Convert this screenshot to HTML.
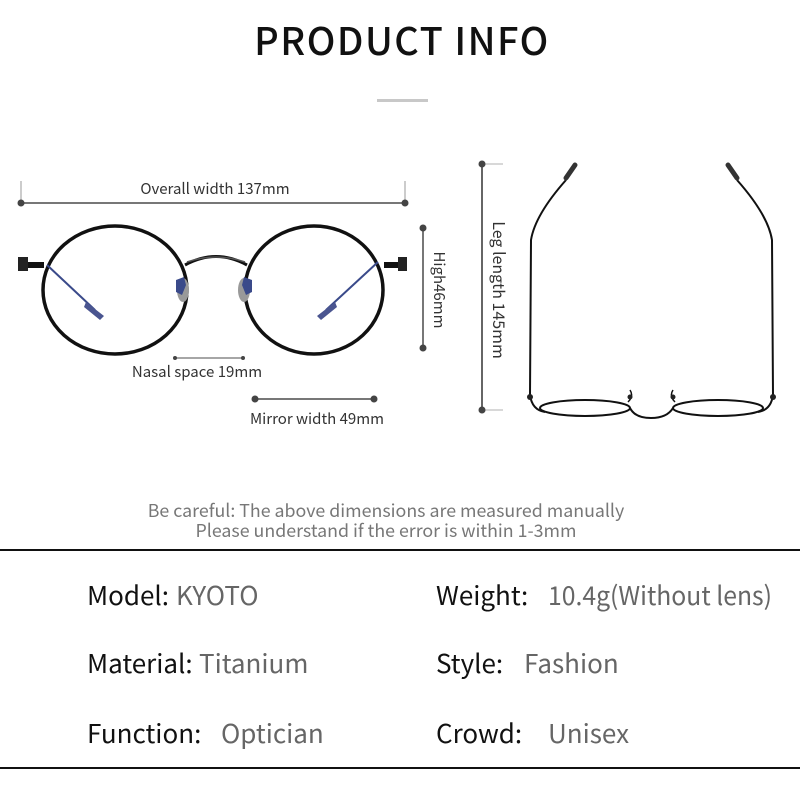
<!DOCTYPE html>
<html><head><meta charset="utf-8"><style>
html,body{margin:0;padding:0;background:#fff}
svg{display:block}
text{font-family:"Noto Sans CJK SC","Liberation Sans",sans-serif}
</style></head><body>
<svg width="800" height="800" viewBox="0 0 800 800" xmlns="http://www.w3.org/2000/svg">
<rect width="800" height="800" fill="#fff"/>
<text x="402" y="55" font-size="38" font-weight="500" text-anchor="middle" fill="#111" letter-spacing="1.5">PRODUCT INFO</text>
<rect x="377" y="99" width="51" height="3" fill="#c8c8c8"/>

<g stroke="#bbb" stroke-width="1.5"><line x1="21" y1="181" x2="21" y2="203"/><line x1="405" y1="181" x2="405" y2="203"/></g>
<line x1="21" y1="203" x2="405" y2="203" stroke="#777" stroke-width="2"/>
<circle cx="21" cy="203" r="3.5" fill="#444"/><circle cx="405" cy="203" r="3.5" fill="#444"/>
<text x="215" y="194" font-size="15" text-anchor="middle" fill="#333">Overall width 137mm</text>

<g fill="none" stroke="#111">
<ellipse cx="115" cy="290" rx="72" ry="64" stroke-width="3.5"/>
<ellipse cx="314" cy="290" rx="69" ry="64" stroke-width="3.5"/>
<path d="M185 265 Q216 248 247 265" stroke-width="3"/>
<path d="M187 262 Q216 252 245 262" stroke-width="1.5" stroke="#555"/>
<line x1="28" y1="265" x2="44" y2="265" stroke-width="6"/>
<line x1="384" y1="265" x2="400" y2="265" stroke-width="6"/>
</g>
<rect x="18" y="257" width="10" height="14" fill="#222"/><rect x="398" y="257" width="9" height="14" fill="#222"/>
<g stroke="#3a4a8a" stroke-width="2" fill="none"><path d="M47 265 L95 310"/><path d="M378 262 L326 310"/></g>
<g fill="#4a5590"><path d="M86 302 L104 316 L100 320 L84 307Z"/><path d="M335 302 L317 316 L321 320 L337 307Z"/></g>
<g fill="#999"><ellipse cx="183" cy="290" rx="6" ry="12"/><ellipse cx="244" cy="290" rx="6" ry="12"/></g>
<g fill="#3a4a8a"><path d="M176 280 l8 -3 l2 8 l-4 10 l-6 -3z"/><path d="M252 280 l-8 -3 l-2 8 l4 10 l6 -3z"/></g>

<line x1="423" y1="228" x2="423" y2="348" stroke="#777" stroke-width="2"/>
<circle cx="423" cy="228" r="3.5" fill="#444"/><circle cx="423" cy="348" r="3.5" fill="#444"/>
<text transform="translate(434,290) rotate(90)" font-size="15" text-anchor="middle" fill="#333">High46mm</text>

<line x1="175" y1="358" x2="243" y2="358" stroke="#888" stroke-width="1.5"/>
<circle cx="175" cy="358" r="2" fill="#444"/><circle cx="243" cy="358" r="2" fill="#444"/>
<text x="197" y="377" font-size="15" text-anchor="middle" fill="#333">Nasal space 19mm</text>

<line x1="255" y1="399" x2="374" y2="399" stroke="#777" stroke-width="2"/>
<circle cx="255" cy="399" r="3.5" fill="#444"/><circle cx="374" cy="399" r="3.5" fill="#444"/>
<text x="317" y="424" font-size="15" text-anchor="middle" fill="#333">Mirror width 49mm</text>

<g stroke="#ccc" stroke-width="1.5"><line x1="482" y1="164" x2="503" y2="164"/><line x1="482" y1="410" x2="503" y2="410"/></g>
<line x1="482" y1="164" x2="482" y2="410" stroke="#666" stroke-width="2"/>
<circle cx="482" cy="164" r="3.5" fill="#444"/><circle cx="482" cy="410" r="3.5" fill="#444"/>
<text transform="translate(493,290) rotate(90)" font-size="16" text-anchor="middle" fill="#333">Leg length 145mm</text>

<g fill="none" stroke="#111" stroke-width="2">
<path d="M566 180 Q535 215 531 240 L530 395 Q532 410 545 412"/>
<path d="M737 180 Q768 215 772 240 L773 395 Q771 410 758 412"/>
<ellipse cx="585" cy="408" rx="45" ry="8"/>
<ellipse cx="718" cy="408" rx="45" ry="8"/>
<path d="M630 408 Q635 418 651 418 Q667 418 673 408"/>
<path d="M628 402 Q634 396 630 390 M675 402 Q669 396 673 390" stroke-width="1.5"/>
</g>
<g stroke="#333" stroke-width="5" stroke-linecap="round"><line x1="575" y1="165" x2="566" y2="178"/><line x1="728" y1="165" x2="737" y2="178"/></g>
<circle cx="530" cy="397" r="3" fill="#222"/><circle cx="773" cy="397" r="3" fill="#222"/>
<circle cx="630" cy="397" r="2.5" fill="#222"/><circle cx="673" cy="397" r="2.5" fill="#222"/>

<text x="386" y="517" font-size="17.8" text-anchor="middle" fill="#777">Be careful: The above dimensions are measured manually</text>
<text x="386" y="537" font-size="17.8" text-anchor="middle" fill="#777">Please understand if the error is within 1-3mm</text>

<rect x="0" y="549" width="800" height="2" fill="#111"/>
<rect x="0" y="767" width="800" height="2" fill="#111"/>

<g font-size="26">
<text x="87" y="605" fill="#111">Model:</text><text x="176" y="605" fill="#666">KYOTO</text>
<text x="436" y="605" fill="#111">Weight:</text><text x="548" y="605" fill="#666" textLength="224" lengthAdjust="spacingAndGlyphs">10.4g(Without lens)</text>
<text x="87" y="673" fill="#111">Material:</text><text x="199" y="673" fill="#666">Titanium</text>
<text x="436" y="673" fill="#111">Style:</text><text x="524" y="673" fill="#666">Fashion</text>
<text x="87" y="743" fill="#111">Function:</text><text x="221" y="743" fill="#666">Optician</text>
<text x="436" y="743" fill="#111">Crowd:</text><text x="548" y="743" fill="#666">Unisex</text>
</g>
</svg>
</body></html>
